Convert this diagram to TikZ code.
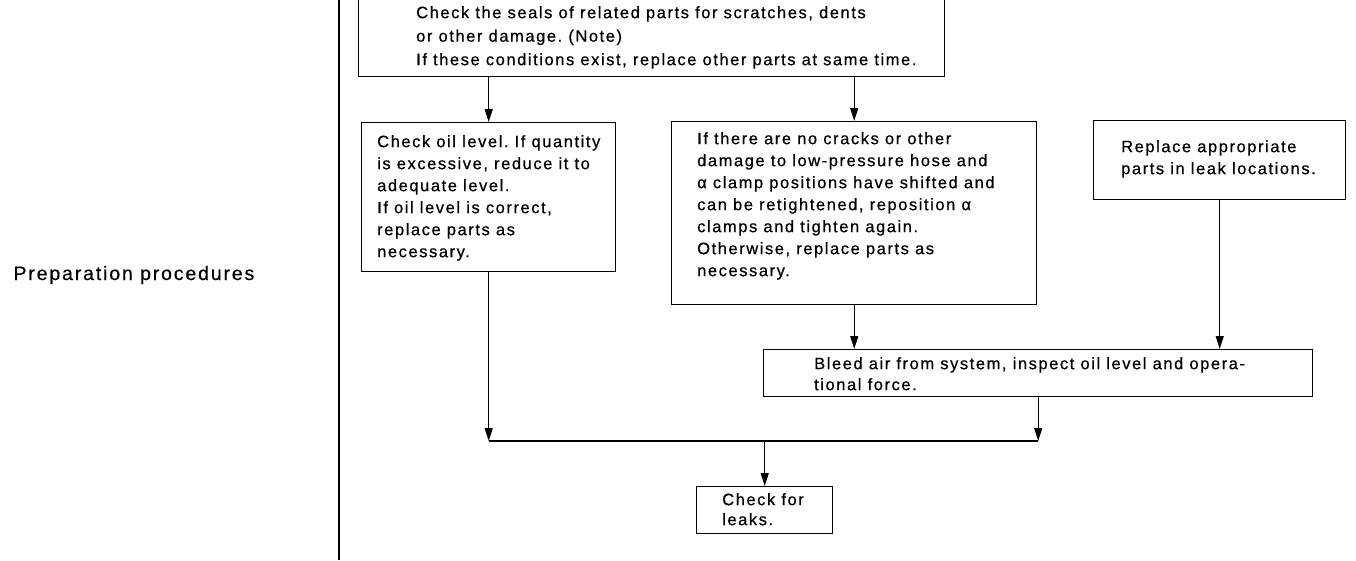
\documentclass[tikz,border=0pt]{standalone}
\usepackage{fontspec}
\setmainfont{Liberation Sans}[LetterSpace=9.5, FakeBold=0.6]
\usetikzlibrary{arrows.meta,positioning,calc}
\frenchspacing

\begin{document}
\begin{tikzpicture}[
  x=1pt, y=-1pt,
  every node/.style={font=\fontsize{16.5}{22}\selectfont},
  arr/.style={-{Triangle[length=13pt,width=8pt]}, line width=1.3pt},
  box/.style={draw, line width=1.4pt, anchor=north west, inner sep=0pt},
  txt/.style={anchor=north west, align=left, inner sep=0pt}
]
  \useasboundingbox (0,0) rectangle (1356,560);
  % left column
  \draw[line width=1.6pt] (339,0) -- (339,560);
  \node[anchor=base west, font=\fontsize{19.5}{24}\selectfont] (prep) at (10,280) {Preparation procedures};

  % boxes
  \node[box, anchor=south west, minimum width=586pt, minimum height=100pt] (seals) at (358,77) {};
  \node[txt, font=\fontsize{16.5}{23.5}\selectfont] (seals-t) at (416,6)
    {Check the seals of related parts for scratches, dents\\or other damage. (Note)\\If these conditions exist, replace other parts at same time.};
  \node[box, minimum width=254pt, minimum height=149pt] (oil) at (361,122) {};
  \node[txt] (oil-t) at (377,135)
    {Check oil level. If quantity\\is excessive, reduce it to\\adequate level.\\If oil level is correct,\\replace parts as\\necessary.};
  \node[box, minimum width=365pt, minimum height=183pt] (hose) at (671,121) {};
  \node[txt] (hose-t) at (697,132)
    {If there are no cracks or other\\damage to low-pressure hose and\\α clamp positions have shifted and\\can be retightened, reposition α\\clamps and tighten again.\\Otherwise, replace parts as\\necessary.};
  \node[box, minimum width=252pt, minimum height=79pt] (parts) at (1093,120) {};
  \node[txt] (parts-t) at (1121,140) {Replace appropriate\\parts in leak locations.};
  \node[box, minimum width=549pt, minimum height=47pt] (bleed) at (763,349) {};
  \node[txt, font=\fontsize{16.5}{21}\selectfont] (bleed-t) at (814,357)
    {Bleed air from system, inspect oil level and opera-\\tional force.};
  \node[box, minimum width=136pt, minimum height=47pt] (leak) at (696,486) {};
  \node[txt, font=\fontsize{16.5}{20}\selectfont] (leak-t) at (722,493) {Check for\\leaks.};

  % connectors
  \coordinate (mergeY) at (0,441);
  \coordinate (mergeL) at (oil.south |- mergeY);
  \coordinate (mergeR) at (bleed.south |- mergeY);
  \coordinate (mergeC) at (leak.north |- mergeY);
  \draw[arr] (oil.north |- seals.south) -- (oil.north);
  \draw[arr] (hose.north |- seals.south) -- (hose.north);
  \draw[arr] (hose.south) -- (hose.south |- bleed.north);
  \draw[arr] (parts.south) -- (parts.south |- bleed.north);
  \draw[arr] (oil.south) -- (mergeL);
  \draw[arr] (bleed.south) -- (mergeR);
  \draw[line width=1.3pt] (mergeL) -- (mergeR);
  \draw[arr] (mergeC) -- (leak.north);
\end{tikzpicture}
\end{document}
